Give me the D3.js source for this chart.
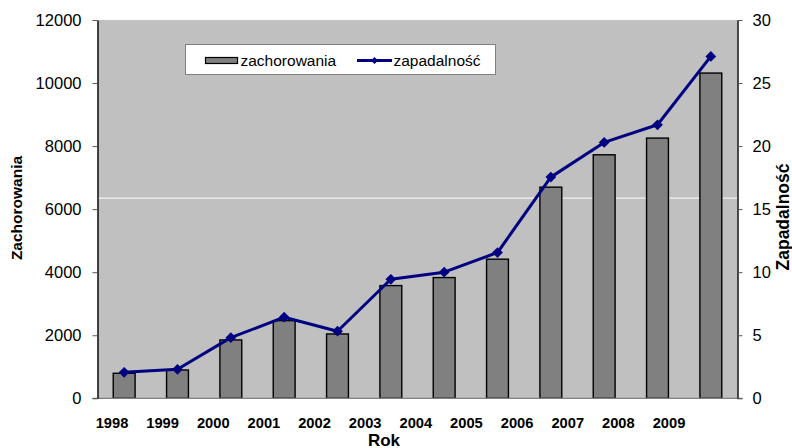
<!DOCTYPE html>
<html>
<head>
<meta charset="utf-8">
<script src="https://cdn.jsdelivr.net/npm/d3@7"></script>
<style>
html,body{margin:0;padding:0;background:#fff;}
text{font-family:"Liberation Sans",Arial,sans-serif;}
</style>
</head>
<body>
<svg id="chart" width="792" height="448"></svg>
<script>
const years = ["1998","1999","2000","2001","2002","2003","2004","2005","2006","2007","2008","2009"];
const zachorowania = [794, 898, 1851, 2463, 2041, 3575, 3829, 4413, 6698, 7724, 8254, 10317];
const zapadalnosc = [2.06, 2.30, 4.81, 6.43, 5.32, 9.44, 10.0, 11.56, 17.54, 20.29, 21.69, 27.11];
const leftTicks = [0, 2000, 4000, 6000, 8000, 10000, 12000];
const rightTicks = [0, 5, 10, 15, 20, 25, 30];
const whiteLineValue = 6350;
const seriesNames = ["zachorowania", "zapadalność"];
const axisTitles = {x: "Rok", yLeft: "Zachorowania", yRight: "Zapadalność"};

const svg = d3.select("#chart");
const L = 97.5, R = 737.5, T = 20, B = 398.3;

const x = d3.scaleBand().domain(years).range([L, R]).padding(0);
const yL = d3.scaleLinear().domain([0, 12000]).range([B, T]);
const yR = d3.scaleLinear().domain([0, 30]).range([B, T]);
// year labels in the original are slightly offset from the bars
const xLab = d3.scalePoint().domain(years).range([112, 669]);

const barW = x.bandwidth() * 0.41;
const cx = d => x(d) + x.bandwidth() / 2;

svg.append("rect").attr("width", 792).attr("height", 448).attr("fill", "#fff");
svg.append("rect").attr("x", L).attr("y", T).attr("width", R - L).attr("height", B - T).attr("fill", "#c0c0c0");

svg.append("line").attr("x1", L).attr("x2", R)
  .attr("y1", yL(whiteLineValue)).attr("y2", yL(whiteLineValue))
  .attr("stroke", "#fff").attr("stroke-width", 1);

// bars
svg.append("g").selectAll("rect").data(years).join("rect")
  .attr("x", (d) => cx(d) - barW / 2)
  .attr("y", (d, i) => yL(zachorowania[i]))
  .attr("width", barW)
  .attr("height", (d, i) => B - yL(zachorowania[i]))
  .attr("fill", "#808080").attr("stroke", "#000").attr("stroke-width", 1.4);

// baseline
svg.append("line").attr("x1", L - 5).attr("x2", R + 5).attr("y1", B).attr("y2", B)
  .attr("stroke", "#808080").attr("stroke-width", 1.2);

// line
const line = d3.line().x((d, i) => cx(years[i])).y(d => yR(d));
svg.append("path").datum(zapadalnosc).attr("d", line)
  .attr("fill", "none").attr("stroke", "#000080").attr("stroke-width", 3).attr("stroke-linejoin", "round");
svg.append("g").selectAll("path").data(zapadalnosc).join("path")
  .attr("d", d3.symbol(d3.symbolSquare, 58)())
  .attr("transform", (d, i) => `translate(${cx(years[i])},${yR(d)}) rotate(45)`)
  .attr("fill", "#000080");

// axes
function styleAxis(g) {
  g.select(".domain").attr("stroke", "#000").attr("stroke-width", 1.4);
  g.selectAll(".tick line").attr("stroke", "#555");
  g.selectAll(".tick text").attr("fill", "#000").style("font-size", "16.5px")
    .style("font-family", '"Liberation Sans",Arial,sans-serif');
}
svg.append("g").attr("transform", `translate(${L},0)`)
  .call(d3.axisLeft(yL).tickValues(leftTicks).tickSize(5).tickSizeOuter(0).tickPadding(11).tickFormat(d3.format("d")))
  .call(styleAxis);
svg.append("g").attr("transform", `translate(${R},0)`)
  .call(d3.axisRight(yR).tickValues(rightTicks).tickSize(5).tickSizeOuter(0).tickPadding(10).tickFormat(d3.format("d")))
  .call(styleAxis);

// x labels
svg.append("g").selectAll("text").data(years).join("text")
  .attr("x", d => xLab(d)).attr("y", 427.7)
  .attr("text-anchor", "middle").attr("font-weight", "bold").attr("font-size", "14.7px")
  .text(d => d);

svg.append("text").attr("x", 384).attr("y", 445.5).attr("text-anchor", "middle")
  .attr("font-weight", "bold").attr("font-size", "17px").text(axisTitles.x);
svg.append("text").attr("transform", "translate(22,208) rotate(-90)").attr("text-anchor", "middle")
  .attr("font-weight", "bold").attr("font-size", "15.5px").text(axisTitles.yLeft);
svg.append("text").attr("transform", "translate(789,217) rotate(-90)").attr("text-anchor", "middle")
  .attr("font-weight", "bold").attr("font-size", "17.5px").text(axisTitles.yRight);

// legend
const lg = svg.append("g");
lg.append("rect").attr("x", 185.5).attr("y", 44.5).attr("width", 310).attr("height", 30)
  .attr("fill", "#fff").attr("stroke", "#808080").attr("stroke-width", 1);
lg.append("rect").attr("x", 205.5).attr("y", 57.5).attr("width", 32).attr("height", 6)
  .attr("fill", "#808080").attr("stroke", "#000").attr("stroke-width", 1.2);
lg.append("text").attr("x", 240.5).attr("y", 65.5).attr("font-size", "15.5px").text(seriesNames[0]);
lg.append("line").attr("x1", 357).attr("x2", 392).attr("y1", 60.5).attr("y2", 60.5)
  .attr("stroke", "#000080").attr("stroke-width", 3);
lg.append("path").attr("d", d3.symbol(d3.symbolSquare, 26)())
  .attr("transform", "translate(374.5,60.5) rotate(45)").attr("fill", "#000080");
lg.append("text").attr("x", 393.5).attr("y", 65.5).attr("font-size", "15.5px").text(seriesNames[1]);
</script>
</body>
</html>
